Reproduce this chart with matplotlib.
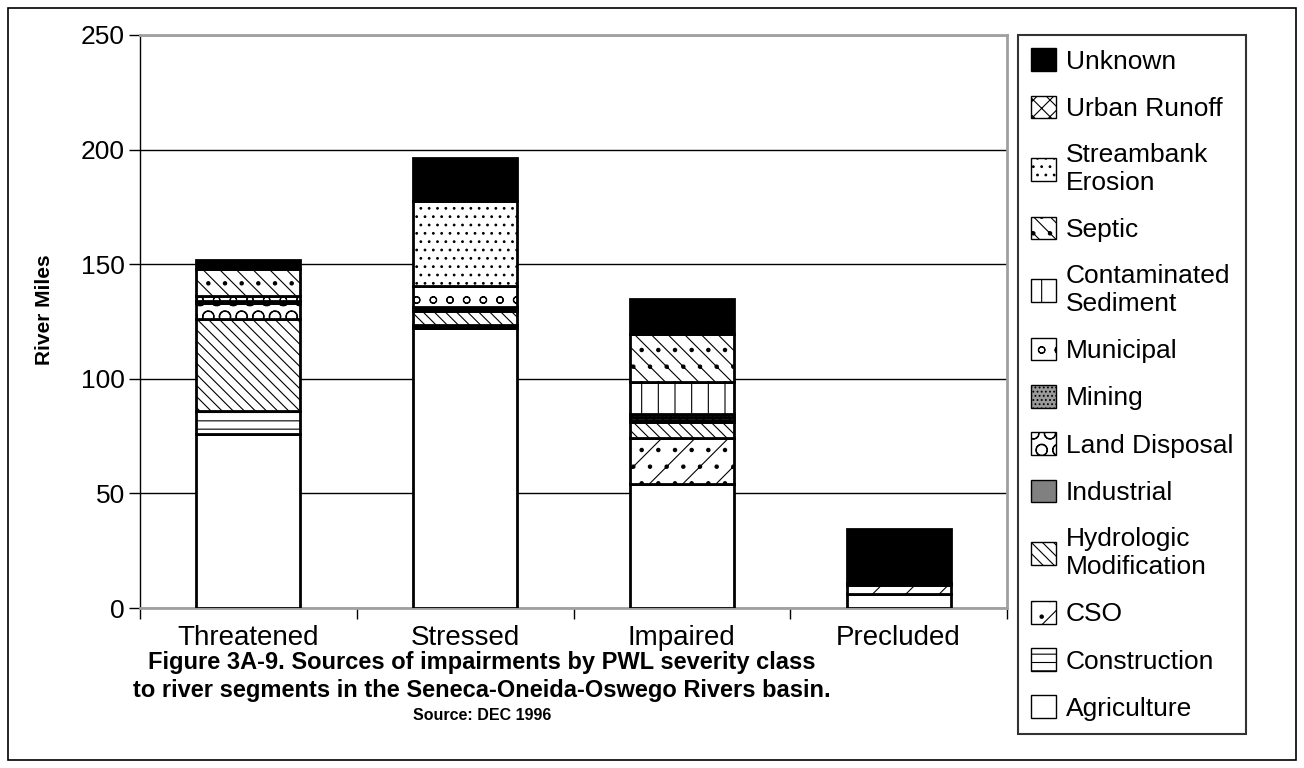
import numpy as np
import matplotlib
matplotlib.use("Agg")
import matplotlib.pyplot as plt
from matplotlib.patches import Rectangle, Patch

plt.rcParams['font.family'] = ['Liberation Sans', 'DejaVu Sans']
plt.rcParams['hatch.linewidth'] = 0.8

categories = ['Threatened', 'Stressed', 'Impaired', 'Precluded']

# river miles per source, stacked bottom -> top
agriculture   = [76, 122, 54, 6]
construction  = [10, 1, 0, 0]
cso           = [0, 0.5, 20, 4]
hydrologic    = [40, 6, 7, 1]
industrial    = [0, 0, 1, 0]
land_disposal = [7, 1, 1.5, 0]
mining        = [1, 1, 1, 0]
municipal     = [2, 9, 0, 0]
contaminated  = [0, 0, 14, 0]
septic        = [12, 0, 21, 0]
streambank    = [0, 37, 0, 0]
urban_runoff  = [0, 0, 0, 0]
unknown       = [4, 19, 15.5, 23.5]

series = [
    ('Agriculture', agriculture, 'white', ''),
    ('Construction', construction, 'white', '--'),
    ('CSO', cso, 'white', '/.'),
    ('Hydrologic\nModification', hydrologic, 'white', '\\\\\\'),
    ('Industrial', industrial, '#808080', ''),
    ('Land Disposal', land_disposal, 'white', 'O'),
    ('Mining', mining, '#9a9a9a', '....'),
    ('Municipal', municipal, 'white', 'o'),
    ('Contaminated\nSediment', contaminated, 'white', '|'),
    ('Septic', septic, 'white', '\\\\.'),
    ('Streambank\nErosion', streambank, 'white', '..'),
    ('Urban Runoff', urban_runoff, 'white', 'xx'),
    ('Unknown', unknown, 'black', ''),
]

W, H = 1304, 768
fig = plt.figure(figsize=(W / 100, H / 100), dpi=100)
ax = fig.add_axes([140 / W, 1 - 608 / H, (1007 - 140) / W, (608 - 35) / H])

x = np.arange(len(categories))
bottom = np.zeros(len(categories))
handles = []
for name, vals, fc, hatch in series:
    vals = np.array(vals, dtype=float)
    bars = ax.bar(x, vals, 0.48, bottom=bottom, color=fc, edgecolor='black',
                  linewidth=2, hatch=hatch, zorder=3)
    for b, v in zip(bars, vals):
        if v == 0:
            b.set_visible(False)
    handles.append(Patch(facecolor=fc, edgecolor='black', hatch=hatch,
                         linewidth=1, label=name))
    bottom += vals

ax.set_xlim(-0.5, 3.5)
ax.set_ylim(0, 250)
ax.set_yticks(np.arange(0, 251, 50))
ax.yaxis.grid(True, color='black', linewidth=1)
ax.set_axisbelow(True)
ax.tick_params(axis='y', labelsize=19, length=8, width=1, pad=3)
ax.set_xticks(x)
ax.set_xticklabels(categories)
ax.set_xticks(np.arange(-0.5, 4, 1), minor=True)
ax.tick_params(axis='x', which='major', length=0, labelsize=20, pad=12)
ax.tick_params(axis='x', which='minor', length=8, width=1)
for s in ['top', 'right', 'bottom']:
    ax.spines[s].set_color('#a0a0a0')
    ax.spines[s].set_linewidth(2)
ax.spines['left'].set_color('black')
ax.spines['left'].set_linewidth(1)

fig.text(45 / W, 1 - 310 / H, 'River Miles', rotation=90, fontsize=15,
         fontweight='bold', ha='center', va='center')
fig.text(482 / W, 1 - 662 / H, 'Figure 3A-9. Sources of impairments by PWL severity class',
         fontsize=17, fontweight='bold', ha='center', va='center')
fig.text(482 / W, 1 - 690 / H, 'to river segments in the Seneca-Oneida-Oswego Rivers basin.',
         fontsize=17, fontweight='bold', ha='center', va='center')
fig.text(482 / W, 1 - 716 / H, 'Source: DEC 1996', fontsize=11.5,
         fontweight='bold', ha='center', va='center')

leg = fig.legend(handles=handles[::-1],
                 loc='upper left', bbox_to_anchor=(1018 / W, 1 - 35 / H),
                 fontsize=19, frameon=True, fancybox=False, edgecolor='black',
                 handlelength=0.95, handleheight=0.95, handletextpad=0.35,
                 labelspacing=0.83, borderpad=0.5, borderaxespad=0)
leg.get_frame().set_linewidth(1.5)

fig.patches.append(Rectangle((8 / W, 8 / H), 1 - 16 / W, 1 - 16 / H,
                             transform=fig.transFigure, fill=False,
                             edgecolor='black', linewidth=1.2))

fig.savefig('out.png', dpi=100)
